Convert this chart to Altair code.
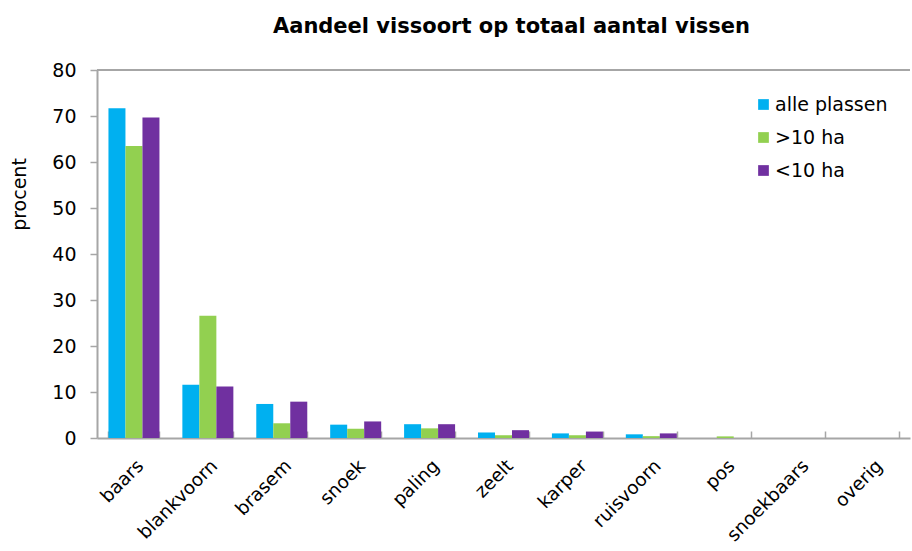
import altair as alt
import pandas as pd

categories = ["baars", "blankvoorn", "brasem", "snoek", "paling", "zeelt",
              "karper", "ruisvoorn", "pos", "snoekbaars", "overig"]
series = ["alle plassen", ">10 ha", "<10 ha"]
alle_plassen = [71.7, 11.6, 7.4, 2.9, 3.0, 1.2, 1.0, 0.8, 0.0, 0.0, 0.0]
groter_10ha = [63.5, 26.6, 3.2, 2.0, 2.1, 0.6, 0.6, 0.4, 0.35, 0.0, 0.0]
kleiner_10ha = [69.7, 11.2, 7.9, 3.6, 3.0, 1.7, 1.4, 1.0, 0.0, 0.0, 0.0]
colors = ["#00B0F0", "#92D050", "#7030A0"]

rows = []
for s, vals in zip(series, [alle_plassen, groter_10ha, kleiner_10ha]):
    for c, v in zip(categories, vals):
        rows.append({"vis": c, "serie": s, "waarde": v})
df = pd.DataFrame(rows)

FONT = "DejaVu Sans"
GRAY = "#a6a6a6"

xscale = alt.Scale(paddingInner=0.31, paddingOuter=0.155)

bars = alt.Chart(df).mark_bar().encode(
    x=alt.X("vis:N", sort=categories, scale=xscale,
            axis=alt.Axis(title=None, labelAngle=-45, labelFontSize=18.5, labelFont=FONT,
                          labelColor="black", domainColor=GRAY, domainWidth=2,
                          ticks=False, labelPadding=18, labelAlign="right",
                          labelBaseline="top")),
    xOffset=alt.XOffset("serie:N", sort=series),
    y=alt.Y("waarde:Q", scale=alt.Scale(domain=[0, 80]),
            axis=alt.Axis(values=list(range(0, 81, 10)), title="procent",
                          labelFontSize=19, labelFont=FONT, labelColor="black",
                          titleFont=FONT, titleFontSize=19, titleFontWeight="normal",
                          titleColor="black", titleX=-78, titleY=124,
                          titleAngle=-90, titleAlign="center", titleBaseline="middle",
                          grid=False, domainColor=GRAY, domainWidth=2,
                          tickColor=GRAY, tickSize=7, tickWidth=1.5, labelPadding=14)),
    color=alt.Color("serie:N", sort=series,
                    scale=alt.Scale(domain=series, range=colors),
                    legend=alt.Legend(title=None, orient="none", legendX=657, legendY=25,
                                      padding=0, symbolType="square", symbolSize=115,
                                      symbolStrokeWidth=0, labelFontSize=19,
                                      labelFont=FONT, labelColor="black",
                                      rowPadding=13, labelOffset=2)),
)

ticks = alt.Chart(df).mark_point(opacity=0).encode(
    x=alt.X("vis:N", sort=categories, scale=xscale,
            axis=alt.Axis(orient="bottom", offset=-7, tickSize=7, tickBand="extent",
                          labels=False, domain=False, tickColor=GRAY, tickWidth=1.5,
                          title=None)),
)

top_line = alt.Chart(df).mark_rule(color=GRAY, strokeWidth=2).encode(
    y=alt.datum(80)
)

chart = alt.layer(bars, ticks, top_line).resolve_axis(x="independent").properties(
    width=813, height=368,
    title=alt.TitleParams("Aandeel vissoort op totaal aantal vissen", font=FONT,
                          fontSize=21, fontWeight="bold", color="black",
                          anchor="middle", offset=24, frame="group", dx=8),
    autosize=alt.AutoSizeParams(type="none"),
    padding={"left": 97, "top": 70, "right": 2, "bottom": 113},
).configure_view(stroke=None)

chart.save("out.html", embed_options={"renderer": "svg", "actions": False})
